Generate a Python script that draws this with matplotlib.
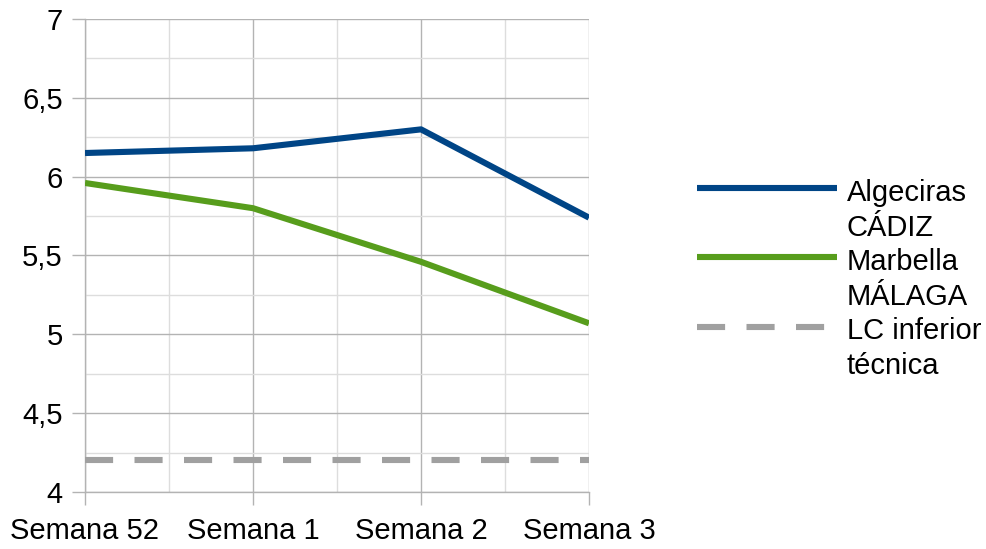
import matplotlib
matplotlib.use("Agg")
import matplotlib.pyplot as plt
from matplotlib.lines import Line2D
from matplotlib.ticker import MultipleLocator

plt.rcParams['font.family'] = ['Liberation Sans', 'DejaVu Sans']

categories = ["Semana 52", "Semana 1", "Semana 2", "Semana 3"]
algeciras = [6.15, 6.18, 6.30, 5.74]
marbella = [5.96, 5.80, 5.46, 5.07]
lc_inferior = [4.20, 4.20, 4.20, 4.20]
legend_labels = [["Algeciras", "CÁDIZ"], ["Marbella", "MÁLAGA"], ["LC inferior", "técnica"]]
yticks = [4, 4.5, 5, 5.5, 6, 6.5, 7]
ytick_labels = ["4", "4,5", "5", "5,5", "6", "6,5", "7"]

W, H = 987, 549
fig = plt.figure(figsize=(W / 100, H / 100), dpi=100)
L, R, T, B = 85, 589, 19, 492
ax = fig.add_axes([L / W, 1 - B / H, (R - L) / W, (B - T) / H])

BLUE = "#004586"
GREEN = "#579d1c"
GRAY = "#a0a0a0"
LW = 4.4
DASH = (4.6, 3.5)

x = list(range(len(categories)))
ax.plot(x, algeciras, color=BLUE, lw=LW, solid_capstyle='butt', zorder=3)
ax.plot(x, marbella, color=GREEN, lw=LW, solid_capstyle='butt', zorder=3)
ax.plot(x, lc_inferior, color=GRAY, lw=LW, dashes=DASH, dash_capstyle='butt', zorder=3)

ax.set_xlim(0, len(categories) - 1)
ax.set_ylim(4, 7)
ax.set_xticks(x)
ax.set_xticklabels(categories, fontsize=21)
ax.set_yticks(yticks)
ax.set_yticklabels(ytick_labels, fontsize=21)
ax.xaxis.set_minor_locator(MultipleLocator(0.5))
ax.yaxis.set_minor_locator(MultipleLocator(0.25))

ax.grid(True, which='major', color='#b3b3b3', lw=1.0, zorder=0)
ax.grid(True, which='minor', color='#dddddd', lw=1.0, zorder=0)
ax.set_axisbelow(True)

for s in ['top', 'right']:
    ax.spines[s].set_visible(False)
for s in ['left', 'bottom']:
    ax.spines[s].set_color('#b3b3b3')
    ax.spines[s].set_linewidth(1.0)

ax.tick_params(axis='both', which='major', length=9.5, color='#b3b3b3', width=1.0)
ax.tick_params(axis='both', which='minor', length=0)
ax.tick_params(axis='y', pad=6.5)
ax.tick_params(axis='x', pad=8.5)

# legend (manual, LibreOffice style)
def fy(py):
    return 1 - py / H

handle_y = [188, 257, 327]
styles = [dict(color=BLUE), dict(color=GREEN), dict(color=GRAY, dashes=DASH, dash_capstyle='butt')]
for hy, st in zip(handle_y, styles):
    ln = Line2D([697 / W, 837 / W], [fy(hy), fy(hy)], transform=fig.transFigure,
                lw=LW, solid_capstyle='butt', **st)
    fig.add_artist(ln)

base0 = 201
step = 34.6
k = 0
for pair in legend_labels:
    for lab in pair:
        fig.text(847 / W, fy(base0 + k * step), lab, fontsize=21, va='baseline', ha='left')
        k += 1

fig.savefig("out.png", dpi=100)
